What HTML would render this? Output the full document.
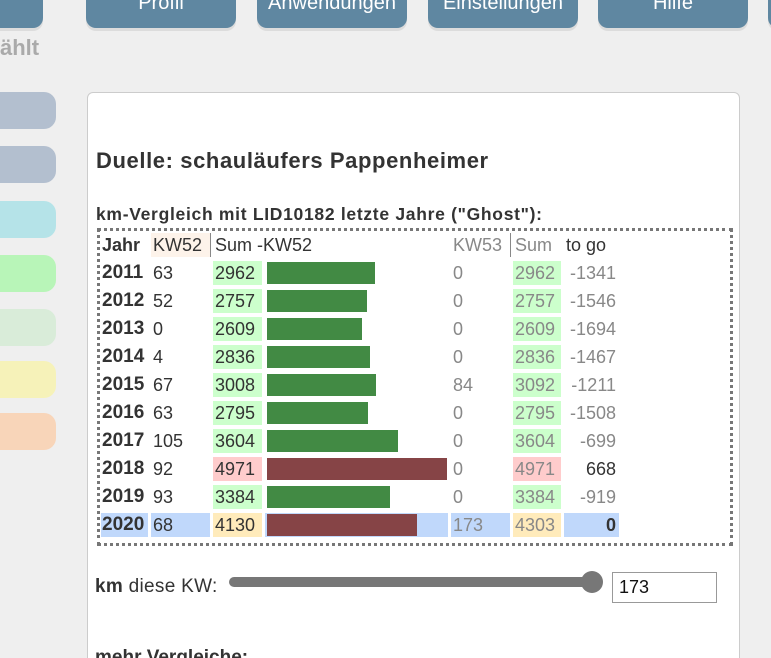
<!DOCTYPE html><html style="overflow:hidden"><head><style>
html,body{margin:0;width:771px;height:658px;overflow:hidden}
body{background:#efefef;font-family:"Liberation Sans",sans-serif;color:#333}
#w{position:relative;width:771px;height:658px;overflow:hidden}
.a{position:absolute}
.nav{position:absolute;top:-20px;height:48px;width:150px;background:#5f87a1;border-radius:0 0 10px 10px;box-shadow:0 3px 0 #dcdcdc;color:#fff;font-size:20px;text-align:center;line-height:46px}
.pill{position:absolute;left:-20px;width:76px;height:37px;border-radius:12px}
.t{position:absolute;font-size:18px;line-height:24px;white-space:nowrap}
.c{position:absolute;height:24px}
.bar{position:absolute;height:22px;left:267px}
</style></head><body><div id="w">
<div class="nav" style="left:-107px"></div>
<div class="nav" style="left:86px">Profil</div>
<div class="nav" style="left:257px">Anwendungen</div>
<div class="nav" style="left:428px">Einstellungen</div>
<div class="nav" style="left:598px">Hilfe</div>
<div class="nav" style="left:768px"></div>
<div class="a" style="left:0;top:35px;font-size:22px;font-weight:bold;color:#aaa">ählt</div>
<div class="pill" style="top:92px;background:#b3bfcf"></div>
<div class="pill" style="top:146px;background:#b3bfcf"></div>
<div class="pill" style="top:201px;background:#b5e3e8"></div>
<div class="pill" style="top:255px;background:#b8f5b8"></div>
<div class="pill" style="top:309px;background:#d9ecd9"></div>
<div class="pill" style="top:361px;background:#f6f2b9"></div>
<div class="pill" style="top:413px;background:#f8d5b9"></div>
<div class="a" style="left:87px;top:92px;width:651px;height:580px;background:#fff;border:1px solid #ccc;border-radius:6px"></div>
<div class="a" style="left:96px;top:148px;font-size:22px;letter-spacing:0.6px;font-weight:bold">Duelle: schauläufers Pappenheimer</div>
<div class="a" style="left:96px;top:204px;font-size:17.5px;letter-spacing:0.7px;font-weight:bold">km-Vergleich mit LID10182 letzte Jahre ("Ghost"):</div>
<div class="a" style="left:97px;top:228px;width:630px;height:312px;border:3px dotted #777"></div>
<div class="c" style="left:151px;top:233px;width:59px;background:#fdf3ea"></div>
<div class="a" style="left:210px;top:233px;width:1px;height:24px;background:#888"></div>
<div class="a" style="left:510px;top:233px;width:1px;height:24px;background:#888"></div>
<div class="t" style="left:102px;top:233px;font-weight:bold">Jahr</div>
<div class="t" style="left:153px;top:233px">KW52</div>
<div class="t" style="left:215px;top:233px">Sum -KW52</div>
<div class="t" style="left:453px;top:233px;color:#888">KW53</div>
<div class="t" style="left:515px;top:233px;color:#888">Sum</div>
<div class="t" style="left:566px;top:233px">to go</div>
<div id="rows"></div>
<script>
var d=[[2011,63,2962,0,2962,-1341],[2012,52,2757,0,2757,-1546],[2013,0,2609,0,2609,-1694],[2014,4,2836,0,2836,-1467],[2015,67,3008,84,3092,-1211],[2016,63,2795,0,2795,-1508],[2017,105,3604,0,3604,-699],[2018,92,4971,0,4971,668],[2019,93,3384,0,3384,-919],[2020,68,4130,173,4303,0]];
var h='';
d.forEach(function(r,i){var y=261+i*28;var last=i==9;var bad=r[2]>4000;
var sc=last?'#ffebbb':(bad?'#ffcccc':'#ccffcc');var sc2=last?'#ffebbb':(r[4]>4000?'#ffcccc':'#ccffcc');
if(last){h+='<div class="c" style="left:101px;top:'+y+'px;width:47px;background:#c0d8fb"></div><div class="c" style="left:151px;top:'+y+'px;width:59px;background:#c0d8fb"></div><div class="c" style="left:265px;top:'+y+'px;width:183px;background:#c0d8fb"></div><div class="c" style="left:451px;top:'+y+'px;width:59px;background:#c0d8fb"></div><div class="c" style="left:564px;top:'+y+'px;width:55px;background:#c0d8fb"></div>';}
h+='<div class="c" style="left:213px;top:'+y+'px;width:49px;background:'+sc+'"></div><div class="c" style="left:513px;top:'+y+'px;width:48px;background:'+sc2+'"></div>';
h+='<div class="bar" style="top:'+(y+1)+'px;width:'+Math.round(r[2]*0.0363)+'px;background:'+(bad?'#864446':'#428a44')+'"></div>';
h+='<div class="t" style="left:102px;top:'+y+'px;font-weight:bold;font-size:19px">'+r[0]+'</div><div class="t" style="left:153px;top:'+y+'px">'+r[1]+'</div><div class="t" style="left:215px;top:'+y+'px">'+r[2]+'</div><div class="t" style="left:453px;top:'+y+'px;color:#888">'+r[3]+'</div><div class="t" style="left:515px;top:'+y+'px;color:#888">'+r[4]+'</div>';
h+='<div class="t" style="left:560px;width:56px;text-align:right;top:'+y+'px;color:'+(r[5]>=0?'#333':'#888')+(r[5]==0?';font-weight:bold':'')+'">'+r[5]+'</div>';});
document.getElementById('rows').innerHTML=h;
</script>
<div class="t" style="left:95px;top:575px;font-size:19px;letter-spacing:0.3px"><b>km</b> diese KW:</div>
<div class="a" style="left:229px;top:577px;width:370px;height:10px;border-radius:5px;background:#777"></div>
<div class="a" style="left:581px;top:571px;width:22px;height:22px;border-radius:50%;background:#777"></div>
<div class="a" style="left:612px;top:572px;width:103px;height:29px;border:1px solid #999;background:#fff;font-size:18px;line-height:29px;text-indent:6px;color:#111">173</div>
<div class="a" style="left:95px;top:647px;font-size:19px;line-height:22px;font-weight:bold">mehr Vergleiche:</div>
</div></body></html>
